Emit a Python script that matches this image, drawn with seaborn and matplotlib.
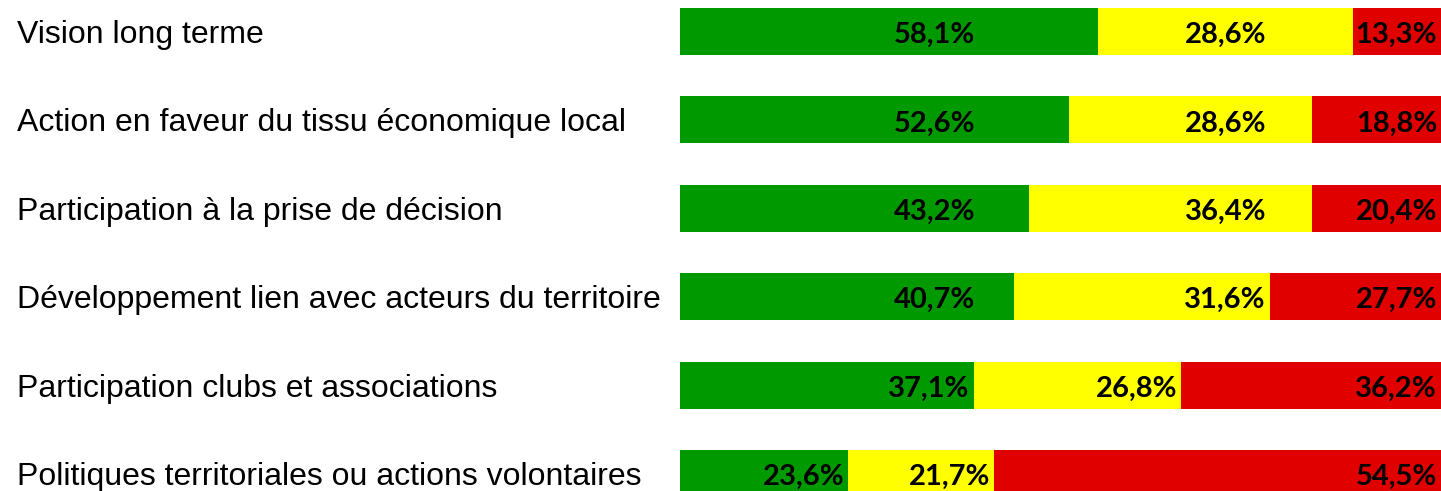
import numpy as np
import pandas as pd
import matplotlib
matplotlib.use("Agg")
import matplotlib.pyplot as plt
import matplotlib.transforms as mtransforms
import seaborn as sns

categories = [
    "Vision long terme",
    "Action en faveur du tissu économique local",
    "Participation à la prise de décision",
    "Développement lien avec acteurs du territoire",
    "Participation clubs et associations",
    "Politiques territoriales ou actions volontaires",
]

# segment lengths as drawn in the picture (share of the bar, in %)
green_len = [54.9, 51.1, 45.9, 43.9, 38.6, 22.1]
yellow_len = [33.6, 31.9, 37.2, 33.6, 27.3, 19.2]
red_len = [11.5, 17.0, 16.9, 22.5, 34.1, 58.7]

# printed values
green_lbl = ["58,1%", "52,6%", "43,2%", "40,7%", "37,1%", "23,6%"]
yellow_lbl = ["28,6%", "28,6%", "36,4%", "31,6%", "26,8%", "21,7%"]
red_lbl = ["13,3%", "18,8%", "20,4%", "27,7%", "36,2%", "54,5%"]

GREEN = "#009900"
YELLOW = "#FFFF00"
RED = "#E00000"

W, H = 1441, 491
px_x = 761 / 100      # pixels per % on x
px_y = 88.4           # pixels per bar slot

df = pd.DataFrame({
    "cat": categories,
    "g": green_len,
    "gy": np.add(green_len, yellow_len),
    "all": np.add(np.add(green_len, yellow_len), red_len),
})

fig = plt.figure(figsize=(W / 100, H / 100), dpi=100)
ax = fig.add_axes([680 / W, 0, 761 / W, 1])

# stacked bars: draw cumulative totals on top of each other
for col, color in [("all", RED), ("gy", YELLOW), ("g", GREEN)]:
    sns.barplot(data=df, y="cat", x=col, color=color, orient="h",
                width=47 / px_y, saturation=1, errorbar=None,
                linewidth=0, ax=ax)

ax.set_xlim(0, 100)
ax.set_ylim((H - 31.5) / px_y, -31.5 / px_y)
ax.axis("off")

lab_tr = mtransforms.blended_transform_factory(fig.transFigure, ax.transData)
base = 11.6 / px_y   # baseline offset below bar centre
pad = 4 / px_x

for i, cat in enumerate(categories):
    ax.text(16.7 / W, i + base, cat, transform=lab_tr, ha="left", va="baseline",
            fontfamily="Liberation Sans", fontsize=23, color="black")

# where the printed values sit (right edge) when the segment is long enough
green_anchor = (975 - 680) / px_x
yellow_anchor = (1266 - 680) / px_x

for i in range(len(categories)):
    g_end = green_len[i]
    y_end = green_len[i] + yellow_len[i]
    r_end = y_end + red_len[i]
    spots = [
        (min(g_end - pad, green_anchor), green_lbl[i]),
        (min(y_end - pad, yellow_anchor), yellow_lbl[i]),
        (r_end - pad, red_lbl[i]),
    ]
    for xr, txt in spots:
        ax.text(xr, i + base, txt, ha="right", va="baseline",
                fontfamily="Lato", fontweight="bold", fontsize=21,
                color="black")

fig.savefig("out.png", dpi=100)
